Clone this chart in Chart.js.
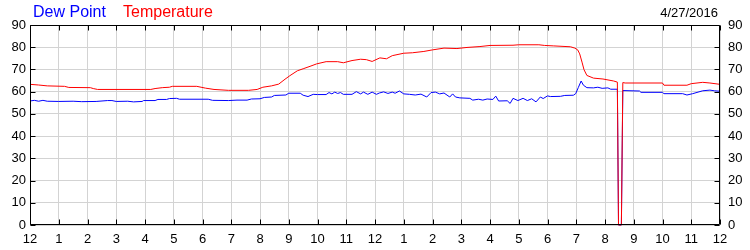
<!DOCTYPE html>
<html>
<head>
<meta charset="utf-8">
<title>Dew Point / Temperature</title>
<script src="https://cdn.jsdelivr.net/npm/chart.js@4/dist/chart.umd.min.js"></script>
<style>
	html, body { margin: 0; padding: 0; background: #fff; }
	#wrap { position: relative; width: 750px; height: 250px; font-family: "Liberation Sans", Arial, sans-serif; }
	#chart { position: absolute; left: 0; top: 0; }
	.lbl { position: absolute; line-height: 1; white-space: nowrap; }
	#dew { left: 33px; top: 4px; font-size: 16px; color: #0000ff; }
	#temp { left: 123px; top: 4px; font-size: 16px; color: #ff0000; }
	#date { right: 32px; top: 6px; font-size: 13px; color: #000; }
</style>
</head>
<body>
<div id="wrap">
	<canvas id="chart" width="750" height="250"></canvas>
	<span class="lbl" id="dew">Dew Point</span>
	<span class="lbl" id="temp">Temperature</span>
	<span class="lbl" id="date">4/27/2016</span>
</div>
<script>
// hour labels along the bottom (midnight to midnight)
const hourLabels = ['12', '1', '2', '3', '4', '5', '6', '7', '8', '9', '10', '11',
	'12', '1', '2', '3', '4', '5', '6', '7', '8', '9', '10', '11', '12'];
const yTicks = [0, 10, 20, 30, 40, 50, 60, 70, 80, 90];

// temperature (hour of day, deg F)
const tempHours = [0, 0.3, 0.6, 1.2, 1.35, 2.1, 2.2, 2.35, 4.2, 4.35, 4.6, 4.85, 4.95, 5.8, 5.95,
	6.1, 6.4, 6.9, 7.6, 7.9, 8.1, 8.4, 8.65, 8.87, 9.04, 9.3, 9.5, 9.74, 9.97, 10.3, 10.7, 10.9,
	11.2, 11.5, 11.7, 11.9, 12.17, 12.4, 12.6, 13.0, 13.3, 13.7, 14.0, 14.4, 14.85, 15.2, 15.65,
	16.0, 16.8, 17.0, 17.7, 17.9, 18.2, 18.8, 18.95, 19.05, 19.12, 19.2, 19.27, 19.37, 19.6,
	19.93, 20.3, 20.43, 20.47, 20.57, 20.62, 20.7, 22.0, 22.05, 22.85, 23.0, 23.4, 23.65, 24];
const tempValues = [63.3, 63.0, 62.6, 62.4, 61.9, 61.8, 61.4, 61.0, 61.0, 61.4, 61.8, 62.0, 62.4, 62.4, 62.0,
	61.6, 61.0, 60.6, 60.6, 61.0, 62.0, 62.6, 63.4, 65.6, 67.2, 69.4, 70.3, 71.4, 72.5, 73.5, 73.5, 73.0,
	74.0, 74.6, 74.4, 73.6, 75.2, 74.8, 76.2, 77.3, 77.5, 78.1, 78.8, 79.6, 79.4, 79.9, 80.3,
	80.8, 80.9, 81.1, 81.1, 80.8, 80.6, 80.2, 79.6, 78.8, 77.0, 73.3, 69.9, 67.3, 66.1,
	65.7, 64.8, 64.3, 0, 0, 64.1, 63.9, 63.9, 62.9, 62.9, 63.6, 64.2, 63.9, 63.3];

// dew point
const dewHours = [0, 0.15, 0.3, 0.45, 0.6, 1.0, 1.5, 1.8, 2.3, 2.7, 2.85, 3.0, 3.4, 3.6, 3.9, 3.95,
	4.35, 4.45, 4.75, 4.85, 5.1, 5.2, 6.2, 6.35, 6.9, 7.2, 7.55, 7.7, 8.0, 8.15, 8.4, 8.5, 8.9, 9.0,
	9.4, 9.5, 9.67, 9.85, 10.0, 10.3, 10.4, 10.5, 10.6, 10.7, 10.8, 10.9, 11.2, 11.35, 11.5, 11.6,
	11.75, 11.9, 12.05, 12.15, 12.3, 12.45, 12.6, 12.7, 12.85, 13.0, 13.2, 13.4, 13.6, 13.8, 13.95,
	14.1, 14.25, 14.4, 14.6, 14.7, 14.8, 14.95, 15.3, 15.4, 15.6, 15.75, 15.9, 16.1, 16.2, 16.3,
	16.6, 16.7, 16.8, 16.97, 17.15, 17.3, 17.45, 17.6, 17.75, 17.85, 18.0, 18.1, 18.45, 18.6, 18.9,
	18.98, 19.07, 19.17, 19.25, 19.37, 19.6, 19.75, 19.9, 20.1, 20.2, 20.43, 20.47, 20.57, 20.62,
	21.2, 21.25, 22.0, 22.05, 22.7, 22.85, 23.05, 23.4, 23.65, 23.8, 24];
const dewValues = [55.8, 56.1, 55.7, 56.1, 55.7, 55.6, 55.7, 55.5, 55.6, 56.0, 56.0, 55.6, 55.7, 55.4, 55.6, 56.0,
	56.0, 56.5, 56.5, 56.9, 57.0, 56.6, 56.6, 56.1, 56.0, 56.2, 56.2, 56.7, 56.8, 57.4, 57.6, 58.3, 58.5, 59.3,
	59.3, 58.4, 57.8, 58.8, 58.7, 58.7, 59.6, 59.0, 59.8, 59.2, 59.6, 58.8, 58.8, 60.0, 59.0, 59.8,
	58.8, 59.8, 58.8, 59.4, 59.9, 59.2, 59.8, 59.3, 60.3, 59.0, 58.8, 58.5, 58.9, 57.6, 59.6,
	59.8, 59.0, 59.4, 57.6, 59.0, 57.6, 57.2, 57.0, 56.2, 56.6, 56.2, 56.7, 56.5, 58.0, 55.8,
	55.9, 54.7, 57.0, 56.0, 57.0, 56.0, 56.8, 55.4, 57.6, 56.9, 58.1, 57.8, 57.9, 58.3, 58.4,
	59.1, 61.8, 64.8, 62.9, 61.8, 61.7, 62.0, 61.5, 61.7, 61.1, 61.1, 0, 0, 60.5,
	60.3, 59.7, 59.7, 59.1, 59.1, 58.5, 59.1, 60.4, 60.7, 60.4, 60.2];

const toPoints = (xs, ys) => xs.map((x, i) => ({ x: x, y: ys[i] }));

// short tick marks pointing into the plot, plus the black frame
const frameTicks = {
	id: 'frameTicks',
	afterDatasetsDraw(chart) {
		const ctx = chart.ctx;
		const a = chart.chartArea;
		const l = Math.round(a.left) + 0.5, r = Math.round(a.right) - 0.5;
		const t = Math.round(a.top) + 0.5, b = Math.round(a.bottom) - 0.5;
		ctx.save();
		ctx.strokeStyle = '#000';
		ctx.lineWidth = 1;
		ctx.beginPath();
		chart.scales.x.ticks.forEach(tk => {
			const px = Math.round(chart.scales.x.getPixelForValue(tk.value)) + 0.5;
			ctx.moveTo(px, b); ctx.lineTo(px, b - 5);
			ctx.moveTo(px, t); ctx.lineTo(px, t + 5);
		});
		chart.scales.y.ticks.forEach(tk => {
			const py = Math.round(chart.scales.y.getPixelForValue(tk.value)) + 0.5;
			ctx.moveTo(l, py); ctx.lineTo(l + 5, py);
			ctx.moveTo(r, py); ctx.lineTo(r - 5, py);
		});
		ctx.rect(l, t, r - l, b - t);
		ctx.stroke();
		ctx.restore();
	}
};

Chart.defaults.font.family = '"Liberation Sans", Arial, sans-serif';
Chart.defaults.font.size = 13;
Chart.defaults.color = '#000';

new Chart(document.getElementById('chart'), {
	type: 'line',
	data: {
		datasets: [
			{
				label: 'Temperature',
				data: toPoints(tempHours, tempValues),
				borderColor: '#ff0000',
				borderWidth: 1,
				pointRadius: 0,
				tension: 0,
				clip: 2
			},
			{
				label: 'Dew Point',
				data: toPoints(dewHours, dewValues),
				borderColor: '#0000ff',
				borderWidth: 1,
				pointRadius: 0,
				tension: 0,
				clip: 2
			}
		]
	},
	options: {
		responsive: false,
		animation: false,
		devicePixelRatio: 1,
		layout: { padding: { top: 25, left: 0, right: 0, bottom: 0 } },
		plugins: { legend: { display: false }, tooltip: { enabled: false } },
		scales: {
			x: {
				type: 'linear',
				min: 0,
				max: 24,
				afterFit: s => { s.height = 25; },
				ticks: {
					stepSize: 1,
					padding: 7,
					maxRotation: 0,
					autoSkip: false,
					callback: v => hourLabels[v]
				},
				grid: { color: '#d3d3d3', drawTicks: false },
				border: { display: false }
			},
			y: {
				position: 'left',
				min: 0,
				max: 90,
				afterFit: s => { s.width = 30; },
				afterBuildTicks: s => { s.ticks = yTicks.map(v => ({ value: v })); },
				ticks: { padding: 4 },
				grid: { color: '#d3d3d3', drawTicks: false },
				border: { display: false }
			},
			y2: {
				position: 'right',
				min: 0,
				max: 90,
				afterFit: s => { s.width = 30; },
				afterBuildTicks: s => { s.ticks = yTicks.map(v => ({ value: v })); },
				ticks: { padding: 8 },
				grid: { display: false, drawTicks: false },
				border: { display: false }
			}
		}
	},
	plugins: [frameTicks]
});
</script>
</body>
</html>
